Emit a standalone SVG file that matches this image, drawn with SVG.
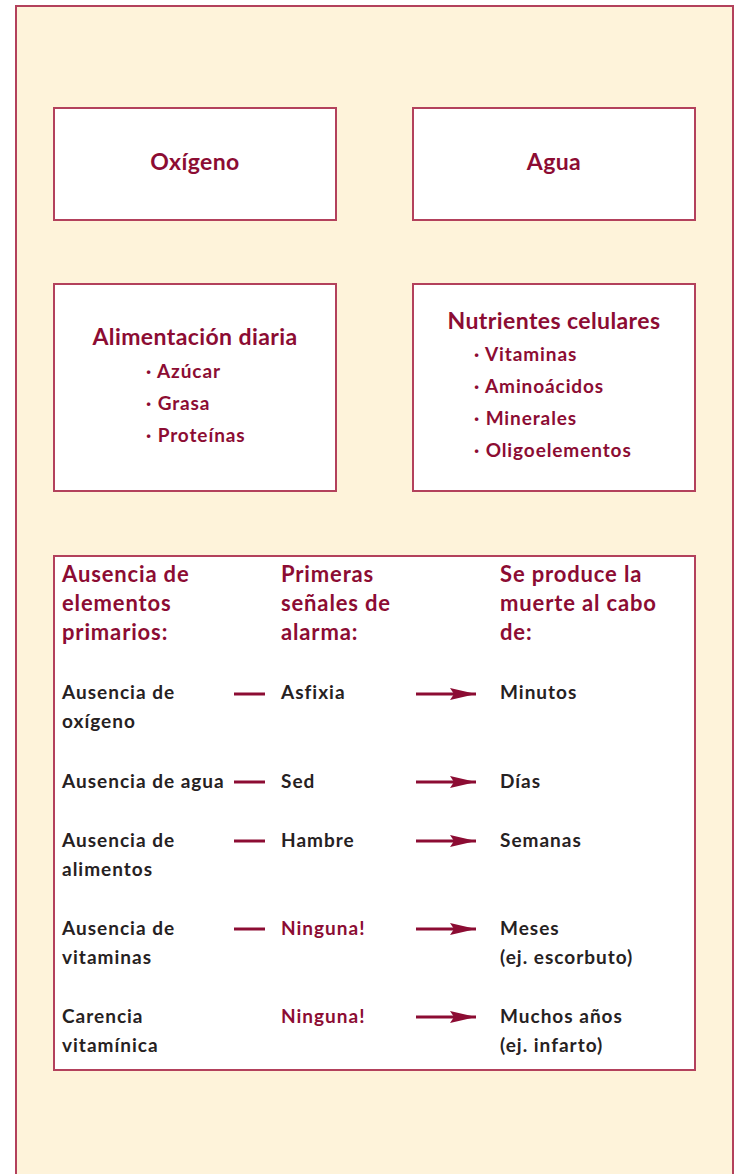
<svg xmlns="http://www.w3.org/2000/svg" width="734" height="1174" viewBox="0 0 734 1174">
<style>
.box{fill:#ffffff;stroke:#b3415c;stroke-width:2}
.t{font-family:Lato,"Open Sans","Liberation Sans",sans-serif;font-weight:bold}
.red{fill:#8c0c33}
.blk{fill:#262122}
.title{font-size:23px;letter-spacing:0.4px}
.item{font-size:19px;letter-spacing:0.9px}
.hdr{font-size:22px;letter-spacing:0.85px}
.row{font-size:19px;letter-spacing:1px}
.dash{stroke:#8c0c33;stroke-width:3}
.arr{stroke:#8c0c33;stroke-width:3;marker-end:url(#ah)}
</style>
<defs>
<marker id="ah" viewBox="0 0 26 12" refX="26" refY="6" markerWidth="26" markerHeight="12" orient="auto" markerUnits="userSpaceOnUse">
<path d="M0,0 L26,6 L0,12 L4,6 Z" fill="#8c0c33"/>
</marker>
</defs>
<rect x="16" y="6" width="717" height="1190" fill="#fef3da" stroke="#b3415c" stroke-width="2"/>
<g id="oxigeno">
<rect class="box" x="54" y="108" width="282" height="112"/>
<text class="t red title" x="195" y="170" text-anchor="middle">Oxígeno</text>
</g>
<g id="agua">
<rect class="box" x="413" y="108" width="282" height="112"/>
<text class="t red title" x="554" y="170" text-anchor="middle">Agua</text>
</g>
<g id="alimentacion">
<rect class="box" x="54" y="284" width="282" height="207"/>
<text class="t red title" x="195" y="345" text-anchor="middle">Alimentación diaria</text>
<text class="t red item" x="146" y="378">· Azúcar</text>
<text class="t red item" x="146" y="410">· Grasa</text>
<text class="t red item" x="146" y="442">· Proteínas</text>
</g>
<g id="nutrientes">
<rect class="box" x="413" y="284" width="282" height="207"/>
<text class="t red title" x="554" y="329" text-anchor="middle">Nutrientes celulares</text>
<text class="t red item" x="474" y="361">· Vitaminas</text>
<text class="t red item" x="474" y="393">· Aminoácidos</text>
<text class="t red item" x="474" y="425">· Minerales</text>
<text class="t red item" x="474" y="457">· Oligoelementos</text>
</g>
<g id="tabla">
<rect class="box" x="54" y="556" width="641" height="514"/>
<text class="t red hdr" x="62" y="582">Ausencia de</text>
<text class="t red hdr" x="62" y="611">elementos</text>
<text class="t red hdr" x="62" y="640">primarios:</text>
<text class="t red hdr" x="281" y="582">Primeras</text>
<text class="t red hdr" x="281" y="611">señales de</text>
<text class="t red hdr" x="281" y="640">alarma:</text>
<text class="t red hdr" x="500" y="582">Se produce la</text>
<text class="t red hdr" x="500" y="611">muerte al cabo</text>
<text class="t red hdr" x="500" y="640">de:</text>

<text class="t blk row" x="62" y="699">Ausencia de</text>
<text class="t blk row" x="62" y="728">oxígeno</text>
<text class="t blk row" x="281" y="699">Asfixia</text>
<text class="t blk row" x="500" y="699">Minutos</text>

<text class="t blk row" x="62" y="788">Ausencia de agua</text>
<text class="t blk row" x="281" y="788">Sed</text>
<text class="t blk row" x="500" y="788">Días</text>

<text class="t blk row" x="62" y="847">Ausencia de</text>
<text class="t blk row" x="62" y="876">alimentos</text>
<text class="t blk row" x="281" y="847">Hambre</text>
<text class="t blk row" x="500" y="847">Semanas</text>

<text class="t blk row" x="62" y="935">Ausencia de</text>
<text class="t blk row" x="62" y="964">vitaminas</text>
<text class="t red row" x="281" y="935">Ninguna!</text>
<text class="t blk row" x="500" y="935">Meses</text>
<text class="t blk row" x="500" y="964">(ej. escorbuto)</text>

<text class="t blk row" x="62" y="1023">Carencia</text>
<text class="t blk row" x="62" y="1052">vitamínica</text>
<text class="t red row" x="281" y="1023">Ninguna!</text>
<text class="t blk row" x="500" y="1023">Muchos años</text>
<text class="t blk row" x="500" y="1052">(ej. infarto)</text>
</g>
<g id="connectors">
<line class="dash" x1="234" y1="694" x2="265" y2="694"/>
<line class="dash" x1="234" y1="782" x2="265" y2="782"/>
<line class="dash" x1="234" y1="841" x2="265" y2="841"/>
<line class="dash" x1="234" y1="929" x2="265" y2="929"/>
<line class="arr" x1="416" y1="694" x2="476" y2="694"/>
<line class="arr" x1="416" y1="782" x2="476" y2="782"/>
<line class="arr" x1="416" y1="841" x2="476" y2="841"/>
<line class="arr" x1="416" y1="929" x2="476" y2="929"/>
<line class="arr" x1="416" y1="1017" x2="476" y2="1017"/>
</g>
</svg>
